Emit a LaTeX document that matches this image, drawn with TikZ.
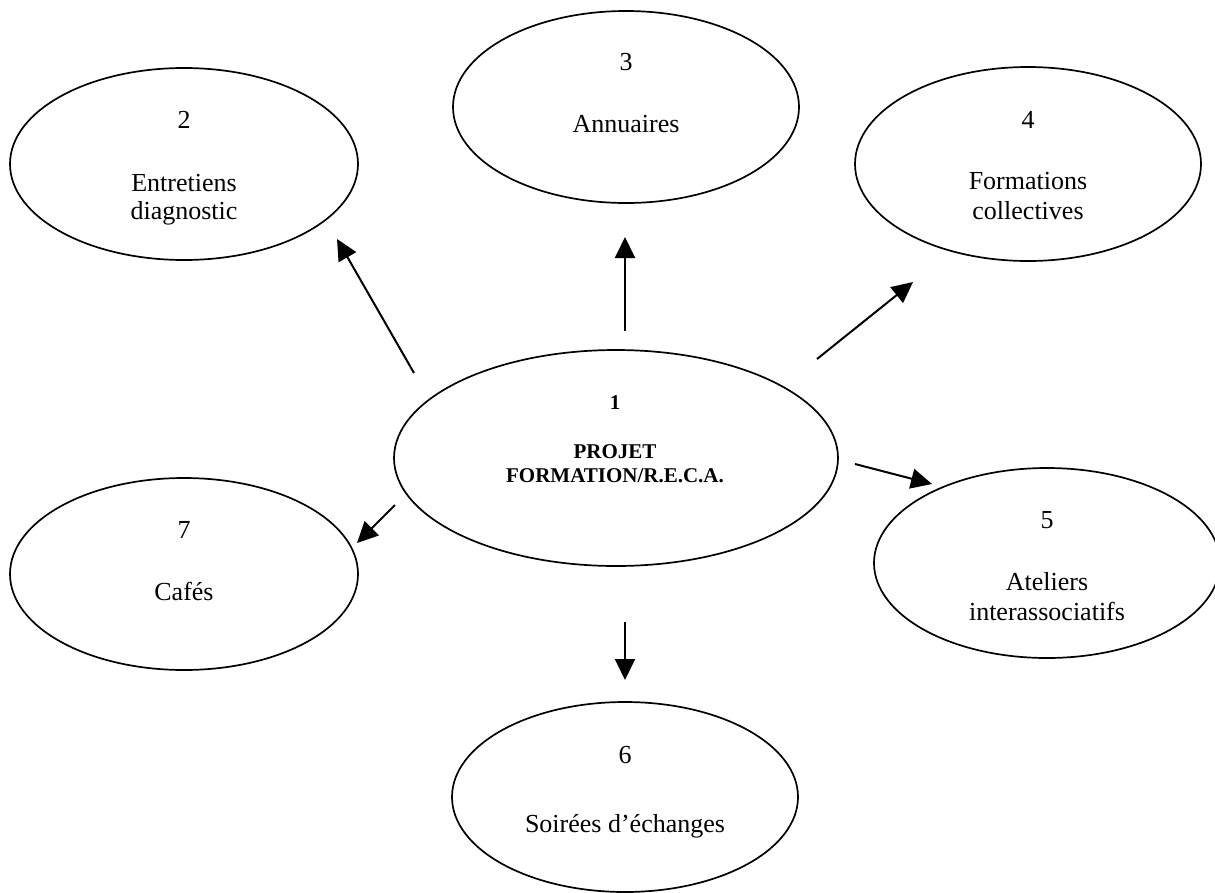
\documentclass[tikz,border=0pt]{standalone}
\usepackage{fontspec}
\setmainfont{Liberation Serif}
\usetikzlibrary{shapes.geometric,arrows.meta}
\tikzset{
  bubble/.style={draw=black, line width=1.7pt, ellipse, inner sep=0pt},
  txt/.style={inner sep=0pt, anchor=base, font=\fontsize{26}{29}\selectfont},
  btxt/.style={inner sep=0pt, anchor=base, font=\fontsize{21}{24}\selectfont\bfseries},
  link/.style={line width=2pt, -{Triangle[length=21pt,width=20pt]}}
}
\begin{document}
\begin{tikzpicture}[x=1pt,y=-1pt]
\useasboundingbox (0,0) rectangle (1215,892);
% ellipses
\node[bubble, minimum width=444pt, minimum height=216pt] (e1) at (616,458) {};
\node[bubble, minimum width=348pt, minimum height=192pt] (e2) at (184,164) {};
\node[bubble, minimum width=346pt, minimum height=192pt] (e3) at (626,107) {};
\node[bubble, minimum width=346pt, minimum height=194pt] (e4) at (1028,164) {};
\node[bubble, minimum width=346pt, minimum height=190pt] (e5) at (1047,563) {};
\node[bubble, minimum width=346pt, minimum height=190pt] (e6) at (625,797) {};
\node[bubble, minimum width=348pt, minimum height=192pt] (e7) at (184,574) {};
% texts
\node[btxt] (n1) at (615,409) {1};
\node[btxt] (l1a) at (615,458) {PROJET};
\node[btxt] (l1b) at (615,482) {FORMATION/R.E.C.A.};
\node[txt] (n2) at (184,128) {2};
\node[txt] (l2a) at (184,191) {Entretiens};
\node[txt] (l2b) at (184,219) {diagnostic};
\node[txt] (n3) at (626,70) {3};
\node[txt] (l3a) at (626,132) {Annuaires};
\node[txt] (n4) at (1028,128) {4};
\node[txt] (l4a) at (1028,189) {Formations};
\node[txt] (l4b) at (1028,219) {collectives};
\node[txt] (n5) at (1047,528) {5};
\node[txt] (l5a) at (1047,590) {Ateliers};
\node[txt] (l5b) at (1047,620) {interassociatifs};
\node[txt] (n6) at (625,763) {6};
\node[txt] (l6a) at (625,832) {Soirées d’échanges};
\node[txt] (n7) at (184,538) {7};
\node[txt] (l7a) at (184,600) {Cafés};
% arrow ends
\coordinate (s2) at (414,373); \coordinate (t2) at (337,239);
\coordinate (s3) at (625,331); \coordinate (t3) at (625,237);
\coordinate (s4) at (817,359); \coordinate (t4) at (913,282);
\coordinate (s5) at (855,464); \coordinate (t5) at (932,484);
\coordinate (s6) at (625,622); \coordinate (t6) at (625,680);
\coordinate (s7) at (395,505); \coordinate (t7) at (357,543);
\draw[link] (s2) -- (t2);
\draw[link] (s3) -- (t3);
\draw[link] (s4) -- (t4);
\draw[link] (s5) -- (t5);
\draw[link] (s6) -- (t6);
\draw[link] (s7) -- (t7);
\end{tikzpicture}
\end{document}
